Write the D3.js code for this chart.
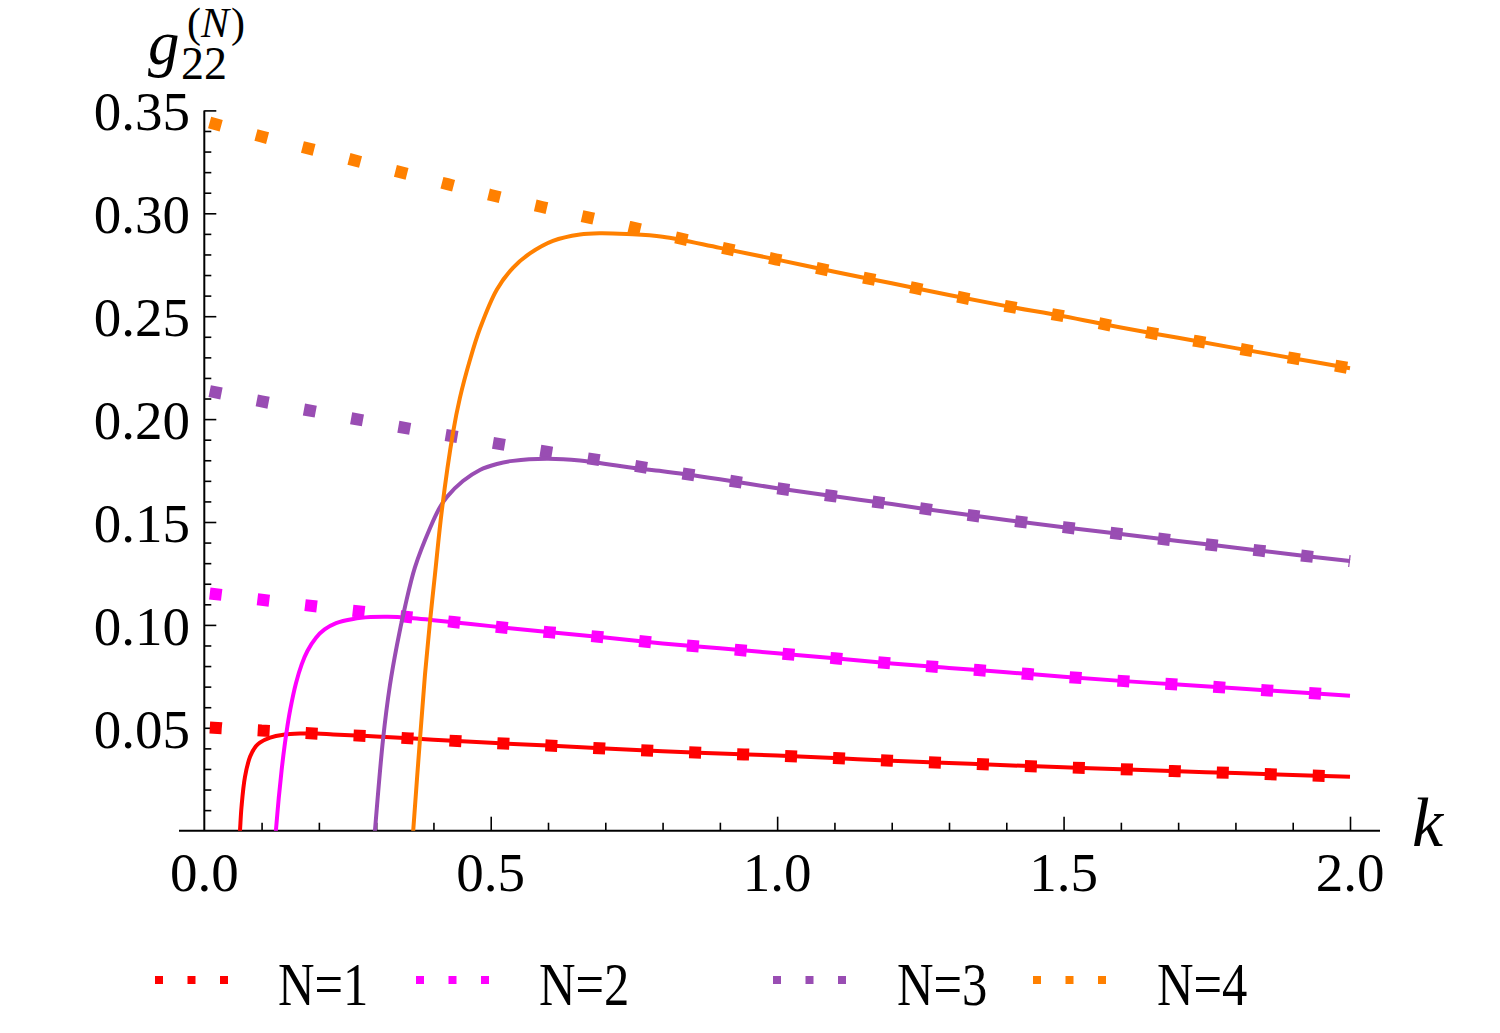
<!DOCTYPE html>
<html><head><meta charset="utf-8">
<script src="https://cdn.jsdelivr.net/npm/d3@7"></script>
<style>body{margin:0;background:#fff} svg{display:block}</style>
</head><body>
<script>
// ---------- data ----------
const kGrid = [0,0.1,0.2,0.3,0.4,0.5,0.6,0.7,0.8,0.9,1.0,1.1,1.2,1.3,1.4,1.5,1.6,1.7,1.8,1.9,2.0];
// asymptotic (dotted) curves
const asym1 = [0.0503,0.0487,0.0471,0.0458,0.0442,0.0427,0.0414,0.0399,0.0386,0.0375,0.0365,0.0353,0.0340,0.0329,0.0318,0.0308,0.0299,0.0289,0.0280,0.0271,0.0262];
const asym2 = [0.1156,0.1122,0.1088,0.1056,0.1025,0.0994,0.0965,0.0939,0.0910,0.0886,0.0862,0.0838,0.0813,0.0791,0.0770,0.0748,0.0728,0.0710,0.0692,0.0674,0.0656];
const asym3 = [0.2141,0.2086,0.2033,0.1982,0.1933,0.1886,0.1840,0.1796,0.1751,0.1708,0.1664,0.1625,0.1587,0.1547,0.1510,0.1475,0.1442,0.1408,0.1375,0.1342,0.1310];
const asym4 = [0.3448,0.3373,0.3302,0.3230,0.3159,0.3089,0.3024,0.2961,0.2897,0.2835,0.2775,0.2716,0.2660,0.2603,0.2549,0.2500,0.2445,0.2395,0.2345,0.2296,0.2247];
// exact (solid) curves
const solidK1 = [0.060,0.0623,0.065,0.071,0.080,0.090,0.097,0.115,0.138,0.167,0.196,0.225,0.3,0.4,0.5,0.6,0.7,0.8,0.9,1.0,1.1,1.2,1.3,1.4,1.5,1.6,1.7,1.8,1.9,2.0];
const solidG1 = [-0.01,0,0.0117,0.0262,0.0360,0.0410,0.0428,0.0452,0.0466,0.0472,0.0472,0.0468,0.0458,0.0442,0.0427,0.0414,0.0399,0.0386,0.0375,0.0365,0.0353,0.0340,0.0329,0.0318,0.0308,0.0299,0.0289,0.0280,0.0271,0.0262];
const solidK2 = [0.122,0.125,0.130,0.135,0.140,0.145,0.150,0.160,0.170,0.180,0.195,0.210,0.230,0.260,0.290,0.320,0.360,0.4,0.5,0.6,0.7,0.8,0.9,1.0,1.1,1.2,1.3,1.4,1.5,1.6,1.7,1.8,1.9,2.0];
const solidG2 = [-0.01,0,0.0160,0.0295,0.0409,0.0506,0.0588,0.0716,0.0808,0.0873,0.0938,0.0978,0.1009,0.1029,0.1038,0.1040,0.1034,0.1023,0.0994,0.0965,0.0939,0.0910,0.0886,0.0862,0.0838,0.0813,0.0791,0.0770,0.0748,0.0728,0.0710,0.0692,0.0674,0.0656];
const solidK3 = [0.295,0.2979,0.3119,0.3241,0.3363,0.3503,0.3677,0.3939,0.4113,0.4236,0.4515,0.4811,0.5108,0.5387,0.5981,0.6557,0.7133,0.75,0.8,0.9,1.0,1.1,1.2,1.3,1.4,1.5,1.6,1.7,1.8,1.9,2.0];
const solidG3 = [-0.01,0,0.0441,0.0708,0.0902,0.1087,0.1280,0.1470,0.1572,0.1622,0.1699,0.1753,0.1782,0.1797,0.1807,0.1799,0.1777,0.1762,0.1747,0.1708,0.1664,0.1625,0.1587,0.1547,0.1510,0.1475,0.1442,0.1408,0.1375,0.1342,0.1310];
const solidK4 = [0.3625,0.3647,0.3764,0.3852,0.3939,0.4026,0.4148,0.4340,0.4462,0.4637,0.4812,0.5108,0.5388,0.5684,0.6086,0.6557,0.6906,0.7377,0.8,0.9,1.0,1.1,1.2,1.3,1.4,1.5,1.6,1.7,1.8,1.9,2.0];
const solidG4 = [-0.01,0,0.0441,0.0757,0.1014,0.1243,0.1560,0.1932,0.2103,0.2287,0.2440,0.2630,0.2735,0.2805,0.2866,0.2897,0.2903,0.2899,0.2886,0.2832,0.2775,0.2716,0.2660,0.2603,0.2549,0.2500,0.2445,0.2395,0.2345,0.2296,0.2247];

const xMajorTicks = [0,0.5,1.0,1.5,2.0];
const xTickLabels = ["0.0","0.5","1.0","1.5","2.0"];
const xMinorTicks = [0.1,0.2,0.3,0.4,0.6,0.7,0.8,0.9,1.1,1.2,1.3,1.4,1.6,1.7,1.8,1.9];
const yMajorTicks = [0.05,0.10,0.15,0.20,0.25,0.30,0.35];
const yTickLabels = ["0.05","0.10","0.15","0.20","0.25","0.30","0.35"];
const yMinorTicks = [0.01,0.02,0.03,0.04,0.06,0.07,0.08,0.09,0.11,0.12,0.13,0.14,0.16,0.17,0.18,0.19,0.21,0.22,0.23,0.24,0.26,0.27,0.28,0.29,0.31,0.32,0.33,0.34];
const seriesNames = ["N=1","N=2","N=3","N=4"];
const seriesColors = ["#ff0000","#ff00ff","#994db3","#ff8000"];

// ---------- layout ----------
const W = 1500, H = 1033;
const x = d3.scaleLinear().domain([0,2]).range([204.3,1350]);
const y = d3.scaleLinear().domain([0,0.35]).range([830.7,110.4]);
const FONT = "'Liberation Serif','Times New Roman',serif";

const svg = d3.select("body").append("svg").attr("width",W).attr("height",H);

svg.append("defs").append("clipPath").attr("id","plotclip")
  .append("rect").attr("x",x(0)).attr("y",0).attr("width",x(2)-x(0)+20).attr("height",y(0));

// axes
const axG = svg.append("g").attr("stroke","#000").attr("stroke-width",2);
axG.append("line").attr("x1",179).attr("x2",1380).attr("y1",y(0)).attr("y2",y(0));
axG.append("line").attr("x1",x(0)).attr("x2",x(0)).attr("y1",y(0)).attr("y2",y(0.35));

const xAxisMajor = d3.axisBottom(x).tickValues(xMajorTicks).tickSizeInner(-14).tickSizeOuter(0).tickFormat("");
const xAxisMinor = d3.axisBottom(x).tickValues(xMinorTicks).tickSizeInner(-8).tickSizeOuter(0).tickFormat("");
const yAxisMajor = d3.axisLeft(y).tickValues(yMajorTicks).tickSizeInner(-12).tickSizeOuter(0).tickFormat("");
const yAxisMinor = d3.axisLeft(y).tickValues(yMinorTicks).tickSizeInner(-7).tickSizeOuter(0).tickFormat("");
[[xAxisMajor,"x"],[xAxisMinor,"x"],[yAxisMajor,"y"],[yAxisMinor,"y"]].forEach(([ax,t])=>{
  const g = svg.append("g")
    .attr("transform", t==="x" ? `translate(0,${y(0)})` : `translate(${x(0)},0)`)
    .call(ax);
  g.select(".domain").remove();
  g.selectAll(".tick line").attr("stroke","#000").attr("stroke-width",1.6);
  g.selectAll(".tick").filter(d => (t==="x" && d===0)).remove();
});

// tick labels
svg.append("g").selectAll("text").data(xMajorTicks).join("text")
  .attr("x",d=>x(d)).attr("y",891).attr("text-anchor","middle")
  .attr("font-family",FONT).attr("font-size",55).text((d,i)=>xTickLabels[i]);
svg.append("g").selectAll("text").data(yMajorTicks).join("text")
  .attr("x",190).attr("y",d=>y(d)+20).attr("text-anchor","end")
  .attr("font-family",FONT).attr("font-size",55).text((d,i)=>yTickLabels[i]);

// axis labels
svg.append("text").attr("x",1412).attr("y",846).attr("font-family",FONT).attr("font-style","italic")
  .attr("font-size",70).text("k");
const ylab = svg.append("text").attr("font-family",FONT);
ylab.append("tspan").attr("x",148).attr("y",64).attr("font-style","italic").attr("font-size",63).text("g");
ylab.append("tspan").attr("x",181).attr("y",79).attr("font-size",46).text("22");
ylab.append("tspan").attr("x",187).attr("y",37).attr("font-size",42).text("(");
ylab.append("tspan").attr("font-size",42).attr("font-style","italic").text("N");
ylab.append("tspan").attr("font-size",42).attr("dx",2).text(")");

// curves
const dotGen = d3.line().x(d=>x(d[0])).y(d=>y(d[1])).curve(d3.curveMonotoneX);
const lineGen = d3.line().x(d=>x(d[0])).y(d=>y(d[1])).curve(d3.curveCatmullRom.alpha(0.5));
const asyms = [asym1,asym2,asym3,asym4];
const solids = [[solidK1,solidG1],[solidK2,solidG2],[solidK3,solidG3],[solidK4,solidG4]];
const plot = svg.append("g").attr("clip-path","url(#plotclip)");
for (let i=0;i<4;i++){
  plot.append("path").attr("d", dotGen(kGrid.map((k,j)=>[k,asyms[i][j]])))
    .attr("fill","none").attr("stroke",seriesColors[i]).attr("stroke-width",12)
    .attr("stroke-dasharray","12 36").attr("stroke-dashoffset",42.5);
  plot.append("path").attr("d", lineGen(solids[i][0].map((k,j)=>[k,solids[i][1][j]])))
    .attr("fill","none").attr("stroke",seriesColors[i]).attr("stroke-width",4);
}

// legend
const legX = [155,416,773,1033];
const legTX = [278,539,897,1157];
const leg = svg.append("g");
seriesNames.forEach((name,i)=>{
  leg.append("line").attr("x1",legX[i]).attr("x2",legX[i]+80).attr("y1",980).attr("y2",980)
    .attr("stroke",seriesColors[i]).attr("stroke-width",8).attr("stroke-dasharray","8 24.5");
  leg.append("text").attr("transform",`translate(${legTX[i]},1005) scale(0.83,1)`)
    .attr("font-family",FONT).attr("font-size",61).text(name);
});
</script>
</body></html>
